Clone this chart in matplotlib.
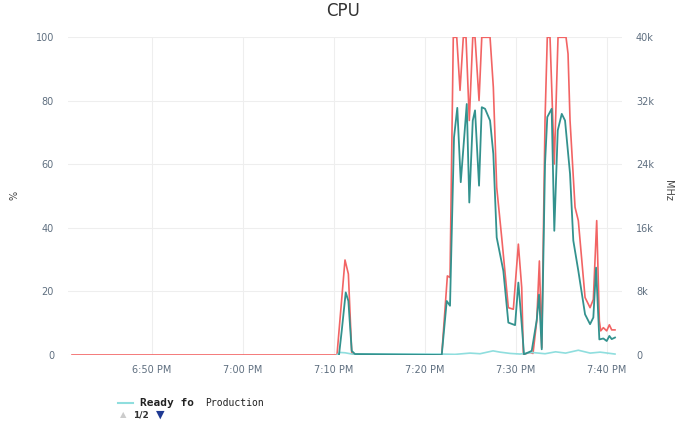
import numpy as np
import matplotlib
matplotlib.use('Agg')
import matplotlib.pyplot as plt

# time axis: minutes after 6:40 PM
tick_min = [10, 20, 30, 40, 50, 60]
tick_labels = ['6:50 PM', '7:00 PM', '7:10 PM', '7:20 PM', '7:30 PM', '7:40 PM']

# CPU usage (%) - red
usage_t = [1.26, 30.38, 31.26, 31.63, 32.0, 32.25, 41.89, 42.51, 42.80, 43.16, 43.54,
           43.90, 44.26, 44.56, 44.92, 45.30, 45.55, 45.99, 46.29, 47.20, 47.56, 47.93,
           48.48, 49.21, 49.76, 50.31, 50.68, 50.86, 51.59, 51.92, 52.33, 52.62, 52.88,
           53.24, 53.49, 53.79, 54.26, 54.67, 55.55, 55.77, 55.99, 56.54, 56.90, 57.64,
           58.19, 58.55, 58.92, 59.21, 59.36, 59.65, 60.02, 60.31, 60.57, 60.93]
usage_v = [0, 0, 29.9, 25.5, 0.7, 0, 0, 24.9, 24.4, 100, 100,
           83.3, 100, 100, 73.8, 100, 100, 80.1, 100, 100, 84.3, 52.8,
           37, 14.9, 14.4, 34.9, 21.2, 0.2, 0.8, 0.5, 10.7, 29.6, 2.3,
           73.8, 100, 100, 60.1, 100, 100, 94.8, 73.8, 46.5, 42.3, 18.1,
           14.9, 17.5, 42.3, 10.7, 7.6, 8.6, 7.6, 9.5, 7.9, 7.9]

# CPU usage (MHz) - teal, right axis
mhz_t = [30.6, 30.90, 31.34, 31.63, 32.0, 32.36, 41.89, 42.44, 42.80, 43.24, 43.60,
         43.98, 44.64, 44.92, 45.30, 45.55, 45.99, 46.29, 46.65, 47.20, 47.56, 47.93,
         48.66, 49.21, 49.95, 50.31, 50.68, 50.93, 51.78, 52.33, 52.58, 52.88, 53.24,
         53.49, 53.97, 54.26, 54.64, 55.08, 55.44, 55.99, 56.35, 56.90, 57.64, 58.19,
         58.55, 58.85, 59.21, 59.65, 60.02, 60.31, 60.57, 60.93]
mhz_v = [0, 3040, 7880, 6800, 520, 120, 0, 6800, 6200, 27400, 31120,
         21760, 31600, 19200, 29520, 30800, 21320, 31200, 31000, 29520, 25320, 14800,
         10600, 4080, 3760, 9120, 3880, 80, 520, 4400, 7600, 720, 24040,
         29960, 31000, 15640, 28280, 30360, 29520, 22800, 14400, 10600, 5120, 3880,
         4720, 11000, 1960, 2080, 1760, 2400, 2000, 2200]

# Ready (%) - light cyan
ready_t = [30.38, 30.71, 31.26, 32.03, 41.8, 43.35, 45.0, 46.1, 47.53, 48.3,
           49.4, 50.5, 51.8, 53.24, 54.4, 55.5, 56.9, 58.2, 59.3, 60.93]
ready_v = [0, 0.8, 0.7, 0.3, 0.3, 0.2, 0.6, 0.4, 1.3, 0.9,
           0.5, 0.3, 0.8, 0.4, 1.0, 0.6, 1.5, 0.6, 0.9, 0.3]

mhz_ticks = [0, 8000, 16000, 24000, 32000, 40000]
mhz_labels = ['0', '8k', '16k', '24k', '32k', '40k']

red = '#f26464'
teal = '#33928e'
cyan = '#8fdede'
lab = '#5f6f80'

fig = plt.figure(figsize=(6.85, 4.22), dpi=100)
ax = fig.add_axes([68 / 685, 1 - 355 / 422, (622 - 68) / 685, (355 - 37.3) / 422])

ax.plot(usage_t, usage_v, color=red, lw=1.2, zorder=3)
ax.plot(ready_t, ready_v, color=cyan, lw=1.2, zorder=4)

ax.set_xlim(0.82, 61.7)
ax.set_ylim(0, 100)
ax.set_yticks([0, 20, 40, 60, 80, 100])
ax.set_xticks(tick_min)
ax.set_xticklabels(tick_labels)
ax.grid(True, color='#eeeeee', lw=0.8)
ax.set_axisbelow(True)
for s in ax.spines.values():
    s.set_visible(False)
ax.tick_params(axis='both', length=0, labelsize=7, colors=lab)
ax.tick_params(axis='y', pad=10)
ax.tick_params(axis='x', pad=7)

ax2 = ax.twinx()
ax2.plot(mhz_t, mhz_v, color=teal, lw=1.3)
ax2.set_ylim(0, 40000)
ax2.set_yticks(mhz_ticks)
ax2.set_yticklabels(mhz_labels)
for s in ax2.spines.values():
    s.set_visible(False)
ax2.tick_params(axis='y', length=0, labelsize=7, colors=lab, pad=10)

fig.text(15 / 685, 1 - 195 / 422, '%', rotation=90, ha='center', va='center',
         fontsize=7, color='#444444')
fig.text(668 / 685, 1 - 190 / 422, 'MHz', rotation=-90, ha='center', va='center',
         fontsize=7, color='#444444')
fig.text(343 / 685, 1 - 11 / 422, 'CPU', ha='center', va='center', fontsize=12,
         color='#333333')

# legend (first page only)
fig.add_artist(plt.Line2D([118 / 685, 133 / 685], [1 - 403 / 422] * 2, color=cyan, lw=1.5))
fig.text(140 / 685, 1 - 403 / 422, 'Ready fo', ha='left', va='center', fontsize=8,
         fontweight='bold', family='DejaVu Sans Mono', color='#222222')
fig.text(205 / 685, 1 - 403 / 422, 'Production', ha='left', va='center', fontsize=7,
         family='DejaVu Sans Mono', color='#222222')
fig.text(120 / 685, 1 - 415 / 422, '▲', ha='left', va='center', fontsize=6, color='#cccccc')
fig.text(133 / 685, 1 - 415 / 422, '1/2', ha='left', va='center', fontsize=6.5,
         fontweight='bold', color='#333333')
fig.text(156 / 685, 1 - 415 / 422, '▼', ha='left', va='center', fontsize=8, color='#1f3a93')

fig.savefig('out.png', dpi=100)
